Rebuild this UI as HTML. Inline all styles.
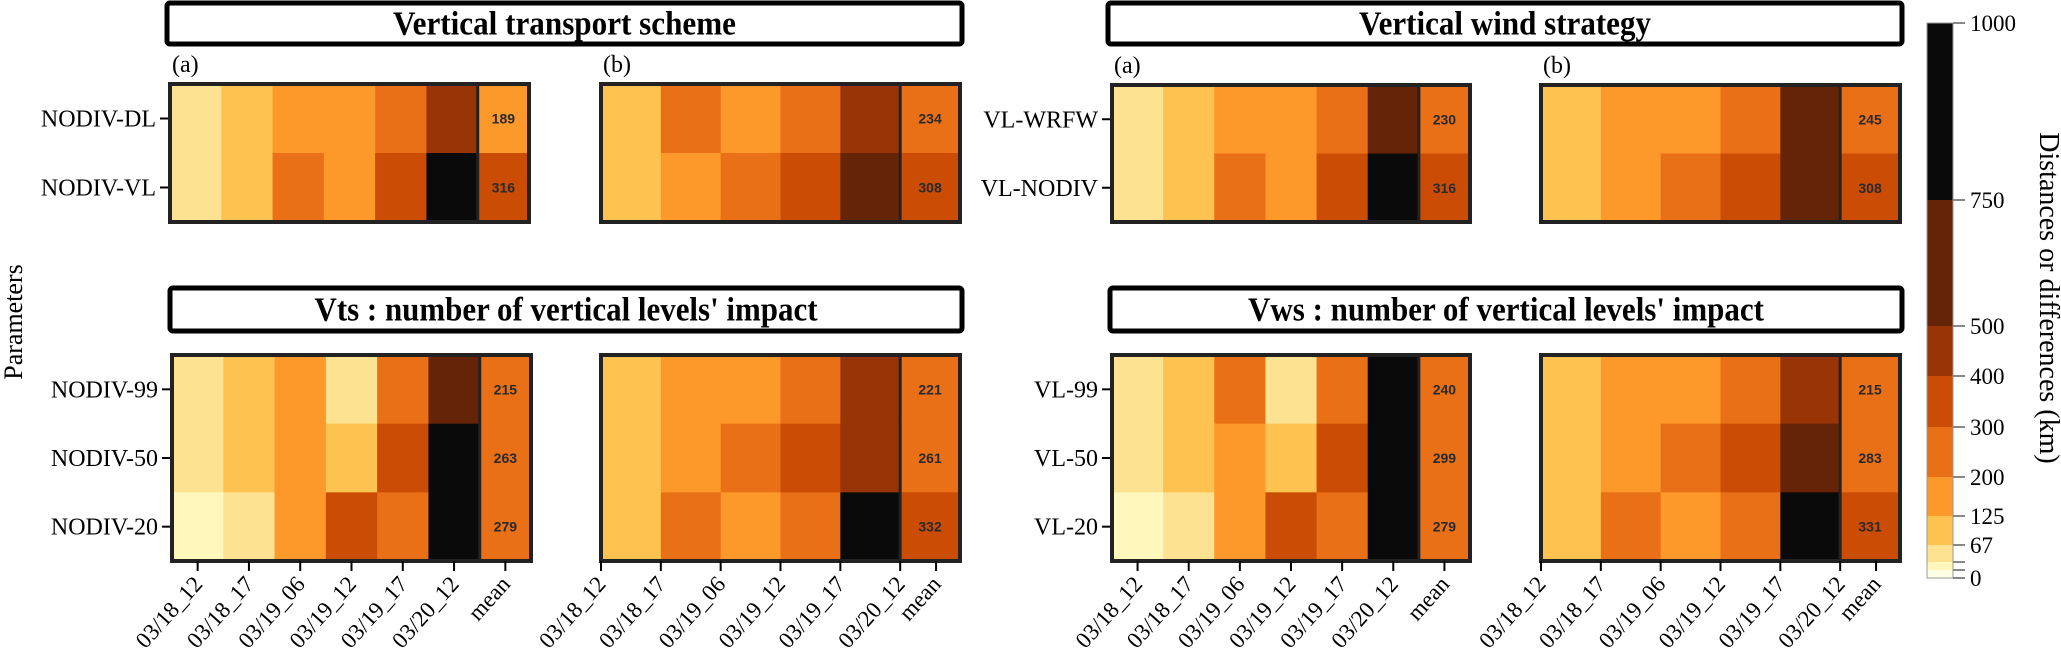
<!DOCTYPE html>
<html><head><meta charset="utf-8"><style>
html,body{margin:0;padding:0;background:#fff;}
svg{display:block;font-family:"Liberation Serif",serif;}
</style></head><body>
<svg id="chart" width="2061" height="648" viewBox="0 0 2061 648" xmlns="http://www.w3.org/2000/svg"></svg>
<script>
// ---- data ----
const timeLabels = ["03/18_12","03/18_17","03/19_06","03/19_12","03/19_17","03/20_12","mean"];
const rowsTop1 = ["NODIV-DL","NODIV-VL"];
const rowsTop2 = ["VL-WRFW","VL-NODIV"];
const rowsBot1 = ["NODIV-99","NODIV-50","NODIV-20"];
const rowsBot2 = ["VL-99","VL-50","VL-20"];
const valsTLa = [[50,100,160,160,250,450,189],[50,100,250,160,350,850,316]];
const valsTLb = [[100,250,160,250,450,234],[100,160,250,350,600,308]];
const valsTRa = [[50,100,160,160,250,600,230],[50,100,250,160,350,850,316]];
const valsTRb = [[100,160,160,250,600,245],[100,160,250,350,600,308]];
const valsBLa = [[50,100,160,50,250,600,215],[50,100,160,100,350,850,263],[30,50,160,350,250,850,279]];
const valsBLb = [[100,160,160,250,450,221],[100,160,250,350,450,261],[100,250,160,250,850,332]];
const valsBRa = [[50,100,250,50,250,850,240],[50,100,160,100,350,850,299],[30,50,160,350,250,850,279]];
const valsBRb = [[100,160,160,250,450,215],[100,160,250,350,600,283],[100,250,160,250,850,331]];
const binEdges = [0,20,40,67,125,200,300,400,500,750,1000];
const binColors = ['#ffffe5','#fff7bc','#fde391','#fdc250','#fd982a','#e97016','#cb4c04','#983405','#652407','#0a0a0a'];
const cbLabels = ["0","67","125","200","300","400","500","750","1000"];
const cbLabelVals = [0,67,125,200,300,400,500,750,1000];

const NS="http://www.w3.org/2000/svg";
const svg=document.getElementById('chart');
function mk(tag,attrs,parent){const e=document.createElementNS(NS,tag);for(const k in attrs)e.setAttribute(k,attrs[k]);(parent||svg).appendChild(e);return e;}
function colorOf(v){for(let i=binEdges.length-2;i>=0;i--){if(v>=binEdges[i])return binColors[i];}return binColors[0];}
const cbY=[578,570,562,545,516,477,427,376,326,200,23];
function cbScale(v){for(let i=0;i<binEdges.length-1;i++){if(v<=binEdges[i+1]){const t=(v-binEdges[i])/(binEdges[i+1]-binEdges[i]);return cbY[i]+t*(cbY[i+1]-cbY[i]);}}return cbY[cbY.length-1];}

function titleBox(x,y,w,h,text,tl,name){
  const g=mk('g',{});
  
  
  mk('rect',{x:x,y:y,width:w,height:h,fill:'#fff',stroke:'#000','stroke-width':5,rx:3},g);
  const t=mk('text',{x:x+w/2,y:y+h/2+11,'text-anchor':'middle','font-size':34,'font-weight':'bold',textLength:tl,lengthAdjust:'spacingAndGlyphs'},g);
  t.textContent=text;
}

function heatmap(x0,y0,w,h,vals,rowLabels,type,showX,name,panelTag){
  const g=mk('g',{});
  
  
  const nr=vals.length, nc=vals[0].length;
  const cw=w/nc, rh=h/nr;
  const xs=c=>x0+c*cw, ys=r=>y0+r*rh;
  vals.forEach((row,r)=>row.forEach((v,c)=>{
    const cell=mk('rect',{x:xs(c),y:ys(r),width:cw+0.5,height:rh+0.5,fill:colorOf(v)},g);
    
    
    if(c===nc-1){
      const t=mk('text',{x:xs(c)+cw/2,y:ys(r)+rh/2+5,'text-anchor':'middle','font-size':14,'font-weight':'bold','font-family':'Liberation Sans, sans-serif',fill:'#2a2a2a'},g);
      t.textContent=v;
      
      
    }
  }));
  mk('line',{x1:xs(nc-1),x2:xs(nc-1),y1:y0,y2:y0+h,stroke:'#222','stroke-width':3},g);
  mk('rect',{x:x0,y:y0,width:w,height:h,fill:'none',stroke:'#222','stroke-width':4},g);
  if(panelTag){const t=mk('text',{x:x0+2,y:y0-12,'font-size':24},g);t.textContent=panelTag;}
  if(rowLabels){
    rowLabels.forEach((lab,r)=>{
      const yc=ys(r)+rh/2;
      mk('line',{x1:x0-10,x2:x0-2,y1:yc,y2:yc,stroke:'#000','stroke-width':2},g);
      const t=mk('text',{x:x0-14,y:yc+8,'text-anchor':'end','font-size':24},g);
      t.textContent=lab;
      
      
    });
  }
  if(showX){
    const ticks=[];
    if(type==='a'){for(let c=0;c<nc;c++)ticks.push(xs(c)+cw/2);}
    else{for(let c=0;c<nc;c++)ticks.push(xs(c));ticks.push(xs(nc-1)+cw*0.6);}
    ticks.forEach((tx,i)=>{
      mk('line',{x1:tx,x2:tx,y1:y0+h,y2:y0+h+10,stroke:'#000','stroke-width':2},g);
      const t=mk('text',{x:tx+6,y:y0+h+24,'text-anchor':'end','font-size':23,transform:`rotate(-48 ${tx+6} ${y0+h+24})`},g);
      t.textContent=timeLabels[i];
      
      
    });
  }
}

titleBox(167,3,795,41,"Vertical transport scheme",343,"title-vertical-transport");
titleBox(1108,3,794,41,"Vertical wind strategy",292,"title-vertical-wind");
titleBox(170,288,792,43,"Vts : number of vertical levels' impact",503,"title-vts-levels");
titleBox(1110,288,792,43,"Vws : number of vertical levels' impact",516,"title-vws-levels");

heatmap(170,84,359,138,valsTLa,rowsTop1,'a',false,'heatmap-transport-a','(a)');
heatmap(601,84,359,138,valsTLb,null,'b',false,'heatmap-transport-b','(b)');
heatmap(1112,85,358,137,valsTRa,rowsTop2,'a',false,'heatmap-wind-a','(a)');
heatmap(1541,85,359,137,valsTRb,null,'b',false,'heatmap-wind-b','(b)');
heatmap(172,355,359,206,valsBLa,rowsBot1,'a',true,'heatmap-vts-a',null);
heatmap(601,355,359,206,valsBLb,null,'b',true,'heatmap-vts-b',null);
heatmap(1112,355,358,206,valsBRa,rowsBot2,'a',true,'heatmap-vws-a',null);
heatmap(1541,355,359,206,valsBRb,null,'b',true,'heatmap-vws-b',null);

const yt=mk('text',{x:0,y:0,'text-anchor':'middle','font-size':26,transform:'translate(22 322) rotate(-90)'});
yt.textContent='Parameters';



const cb=mk('g',{});


for(let i=0;i<binColors.length;i++){
  const ya=cbScale(binEdges[i+1]), yb=cbScale(binEdges[i]);
  mk('rect',{x:1927,y:ya,width:26,height:yb-ya,fill:binColors[i]},cb);
}
mk('rect',{x:1927,y:cbScale(1000),width:26,height:cbScale(0)-cbScale(1000),fill:'none',stroke:'#999','stroke-width':1},cb);
binEdges.forEach(v=>{const y=cbScale(v);mk('line',{x1:1953,x2:1965,y1:y,y2:y,stroke:'#888','stroke-width':2},cb);});
cbLabelVals.forEach((v,i)=>{
  const t=mk('text',{x:1970,y:cbScale(v)+8,'font-size':23},cb);
  t.textContent=cbLabels[i];
  
  
});
const ct=mk('text',{x:0,y:0,'text-anchor':'middle','font-size':28,transform:'translate(2040 298) rotate(90)'});
ct.textContent='Distances or differences (km)';


</script>
</body></html>
